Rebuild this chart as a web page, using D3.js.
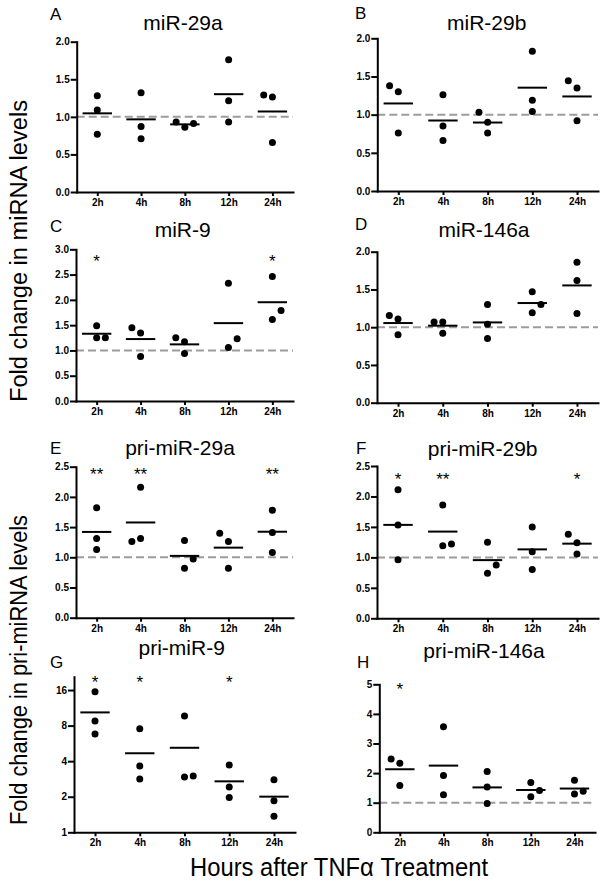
<!DOCTYPE html>
<html><head><meta charset="utf-8">
<script src="https://cdn.jsdelivr.net/npm/d3@7"></script>
<style>
body{margin:0;background:#fff}
svg text{font-family:"Liberation Sans",Arial,Helvetica,sans-serif;fill:#000}
</style>
</head><body>
<svg id="chart" width="600" height="881"></svg>
<script>
// ---------- data ----------
const hours = ["2h", "4h", "8h", "12h", "24h"];

const miR29aVals   = [[1.28, 1.09, 0.77], [1.32, 0.87, 0.71], [0.86, 0.93, 0.91], [1.76, 1.215, 0.93], [1.264, 0.66, 1.29]];
const miR29bVals   = [[1.30, 0.76, 1.38], [1.26, 0.85, 0.66], [0.90, 0.76, 1.03], [1.83, 1.19, 1.04], [1.35, 0.92, 1.445]];
const miR9Vals     = [[1.49, 1.25, 1.25], [1.345, 0.88, 1.45], [1.17, 0.94, 1.25], [2.33, 1.06, 1.23], [2.46, 1.61, 1.79]];
const miR146aVals  = [[1.11, 0.90, 1.155], [1.07, 0.92, 1.07], [1.30, 1.04, 0.85], [1.47, 1.19, 1.30], [1.86, 1.62, 1.18]];
const pri29aVals   = [[1.82, 1.31, 1.13], [2.16, 1.31, 1.26], [1.28, 0.82, 0.97], [1.26, 0.82, 1.40], [1.78, 1.41, 1.08]];
const pri29bVals   = [[2.11, 1.53, 0.96], [1.86, 1.19, 1.22], [1.25, 0.74, 0.875], [1.50, 1.094, 0.80], [1.24, 1.056, 1.38]];
const pri9Vals     = [[15.5, 8.75, 6.79], [7.53, 3.64, 2.83], [9.64, 2.94, 3.0], [3.71, 2.42, 1.97], [2.79, 1.85, 1.37]];
const pri146aVals  = [[2.33, 1.58, 2.48], [3.57, 1.92, 1.27], [2.05, 1.53, 0.97], [1.68, 1.20, 1.41], [1.76, 1.29, 1.385]];

const sigNone  = ["", "", "", "", ""];
const sigMiR9  = ["*", "", "", "", "*"];
const sigP29a  = ["**", "**", "", "", "**"];
const sigP29b  = ["*", "**", "", "", "*"];
const sigP9    = ["*", "*", "", "*", ""];
const sigP146a = ["*", "", "", "", ""];

const ticks0to2   = [0, 0.5, 1.0, 1.5, 2.0];
const ticks0to3   = [0, 0.5, 1.0, 1.5, 2.0, 2.5, 3.0];
const ticks0to25  = [0, 0.5, 1.0, 1.5, 2.0, 2.5];
const ticksLog    = [1, 2, 4, 8, 16];
const ticks0to5   = [0, 1, 2, 3, 4, 5];

const yTitleTop = "Fold change in miRNA levels";
const yTitleBottom = "Fold change in pri-miRNA levels";
const xTitle = "Hours after TNF\u03B1 Treatment";

// ---------- panels (data + layout) ----------
const panels = [
  {letter:"A", title:"miR-29a", vals:miR29aVals, sig:sigNone, type:"lin", dom:[0,2], ticks:ticks0to2, fmt:".1f", ref:1,
   x0:76.7, x1:293, y0:192, yt:41.7, tx:183, ty:29.5, lx:50, ly:20, sdy:9, side:[-1,-1,-1,-1,-1]},
  {letter:"B", title:"miR-29b", vals:miR29bVals, sig:sigNone, type:"lin", dom:[0,2], ticks:ticks0to2, fmt:".1f", ref:1,
   x0:377.3, x1:598, y0:191, yt:38.3, tx:486.7, ty:30, lx:355, ly:18.5, sdy:9, side:[-1,-1,-1,-1,-1]},
  {letter:"C", title:"miR-9", vals:miR9Vals, sig:sigMiR9, type:"lin", dom:[0,3], ticks:ticks0to3, fmt:".1f", ref:1,
   x0:76, x1:293, y0:401, yt:249.3, tx:182.7, ty:237.3, lx:50, ly:231.7, sdy:8, side:[1,-1,-1,1,1]},
  {letter:"D", title:"miR-146a", vals:miR146aVals, sig:sigNone, type:"lin", dom:[0,2], ticks:ticks0to2, fmt:".1f", ref:1,
   x0:377, x1:598, y0:402.7, yt:251.7, tx:484, ty:237.3, lx:355, ly:230.3, sdy:9, side:[-1,-1,-1,1,-1]},
  {letter:"E", title:"pri-miR-29a", vals:pri29aVals, sig:sigP29a, type:"lin", dom:[0,2.5], ticks:ticks0to25, fmt:".1f", ref:1,
   x0:76, x1:293, y0:617.7, yt:466.7, tx:180, ty:455, lx:50, ly:454.3, sdy:3.5, side:[-1,-1,1,-1,-1]},
  {letter:"F", title:"pri-miR-29b", vals:pri29bVals, sig:sigP29b, type:"lin", dom:[0,2.5], ticks:ticks0to25, fmt:".1f", ref:1,
   x0:377, x1:598, y0:618.3, yt:466, tx:482.7, ty:455.7, lx:356, ly:454.3, sdy:9, side:[-1,1,1,-1,-1]},
  {letter:"G", title:"pri-miR-9", vals:pri9Vals, sig:sigP9, type:"log", dom:[1,20.75], ticks:ticksLog, fmt:"d", ref:null,
   x0:74, x1:295, y0:832.3, yt:676.7, tx:181.7, ty:655, lx:50, ly:668.3, sdy:1.6, side:[-1,-1,1,-1,-1]},
  {letter:"H", title:"pri-miR-146a", vals:pri146aVals, sig:sigP146a, type:"lin", dom:[0,5], ticks:ticks0to5, fmt:"d", ref:1,
   x0:379.3, x1:595, y0:832.3, yt:684.3, tx:484, ty:658.3, lx:357, ly:668.3, sdy:0.7, side:[-1,-1,-1,1,1]}
];

const svg = d3.select("#chart");
const R = 3.5, OFF = 8.7, THR = 10.3, HALF = 14.7;

panels.forEach(p => {
  const g = svg.append("g");
  const x = d3.scalePoint().domain(hours).range([p.x0, p.x1]).padding(0.47);
  const y = (p.type === "log" ? d3.scaleLog().base(2) : d3.scaleLinear())
              .domain(p.dom).range([p.y0, p.yt]);

  // reference dashed line
  if (p.ref !== null) {
    g.append("line")
      .attr("x1", p.x0).attr("x2", p.x1)
      .attr("y1", y(p.ref)).attr("y2", y(p.ref))
      .attr("stroke", "#9c9c9c").attr("stroke-width", 2)
      .attr("stroke-dasharray", "8,4");
  }

  // axes
  const xa = g.append("g").attr("transform", `translate(0,${p.y0})`)
    .call(d3.axisBottom(x).tickSize(4).tickSizeOuter(0).tickPadding(3));
  const ya = g.append("g").attr("transform", `translate(${p.x0},0)`)
    .call(d3.axisLeft(y).tickValues(p.ticks).tickFormat(d3.format(p.fmt)).tickSize(6).tickSizeOuter(0).tickPadding(1));
  [xa, ya].forEach(a => {
    a.select(".domain").attr("stroke", "#000").attr("stroke-width", 2).attr("stroke-linecap", "square");
    a.selectAll(".tick line").attr("stroke", "#000").attr("stroke-width", 2);
    a.selectAll(".tick text").attr("font-size", 10).attr("font-weight", "bold")
      .attr("font-family", "'Liberation Sans',Arial,sans-serif").attr("fill", "#000");
  });

  // dots with collision nudge
  hours.forEach((h, i) => {
    const cx = x(h);
    const placed = [];
    p.vals[i].forEach(v => {
      const py = y(v);
      const free = o => placed.every(q => q.off !== o || Math.abs(q.py - py) >= THR);
      let o = 0;
      if (!free(0)) o = free(p.side[i] * OFF) ? p.side[i] * OFF : -p.side[i] * OFF;
      placed.push({v, py, off: o});
    });
    g.selectAll(null).data(placed).enter().append("circle")
      .attr("cx", d => cx + d.off).attr("cy", d => d.py).attr("r", R).attr("fill", "#000");
    const m = d3.mean(p.vals[i]);
    g.append("line").attr("x1", cx - HALF).attr("x2", cx + HALF)
      .attr("y1", y(m)).attr("y2", y(m)).attr("stroke", "#000").attr("stroke-width", 2);
    if (p.sig[i]) {
      g.append("text").attr("x", cx).attr("y", p.yt + p.sdy + 9.8)
        .attr("text-anchor", "middle").attr("font-size", 17).text(p.sig[i]);
    }
  });

  // titles and letters
  g.append("text").attr("x", p.tx).attr("y", p.ty).attr("text-anchor", "middle")
    .attr("font-size", 21).text(p.title);
  g.append("text").attr("x", p.lx).attr("y", p.ly).attr("font-size", 17).text(p.letter);
});

// global axis titles
svg.append("text").attr("transform", "translate(27,251) rotate(-90)")
  .attr("text-anchor", "middle").attr("font-size", 23)
  .attr("textLength", 302).attr("lengthAdjust", "spacingAndGlyphs").text(yTitleTop);
svg.append("text").attr("transform", "translate(27,670) rotate(-90)")
  .attr("text-anchor", "middle").attr("font-size", 23)
  .attr("textLength", 310).attr("lengthAdjust", "spacingAndGlyphs").text(yTitleBottom);
svg.append("text").attr("x", 339).attr("y", 876)
  .attr("text-anchor", "middle").attr("font-size", 25)
  .attr("textLength", 298).attr("lengthAdjust", "spacingAndGlyphs").text(xTitle);
</script>
</body></html>
